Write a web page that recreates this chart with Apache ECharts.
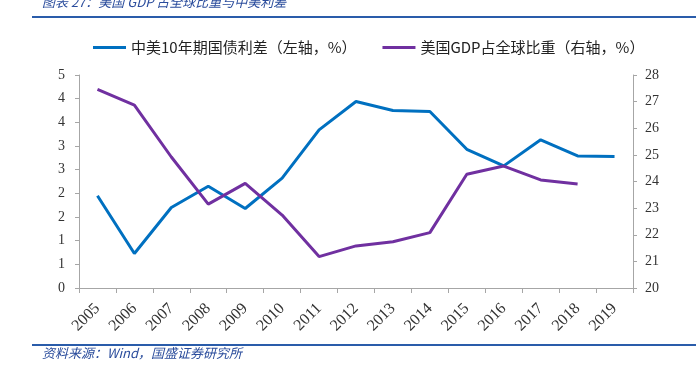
<!DOCTYPE html>
<html><head><meta charset="utf-8">
<script src="https://cdn.jsdelivr.net/npm/echarts@6/dist/echarts.min.js"></script>
<style>html,body{margin:0;padding:0;background:#fff}#c{width:696px;height:373px}</style>
</head><body><div id="c"></div>
<script>
const years = ['2005','2006','2007','2008','2009','2010','2011','2012','2013','2014','2015','2016','2017','2018','2019'];
const spread = [1.95, 0.73, 1.70, 2.15, 1.68, 2.32, 3.34, 3.94, 3.75, 3.73, 2.93, 2.58, 3.13, 2.79, 2.78];
const gdpShare = [27.46, 26.87, 24.92, 23.15, 23.93, 22.74, 21.18, 21.58, 21.74, 22.08, 24.27, 24.58, 24.06, 23.91, null];
const seriesNames = ['中美10年期国债利差（左轴，%）', '美国GDP占全球比重（右轴，%）'];
const titleText = '图表 27：美国 GDP 占全球比重与中美利差';
const sourceText = '资料来源：Wind，国盛证券研究所';

const chart = echarts.init(document.getElementById('c'));
const axisLineStyle = {show:true, lineStyle:{color:'#A6A6A6', width:1}};
const labelFont = {fontFamily:'Liberation Serif', fontSize:14, color:'#333'};
chart.setOption({
  animation:false,
  grid:{left:79, right:63, top:75, bottom:85},
  legend:{
    top:35, left:88, itemWidth:33, itemHeight:3, itemGap:26,
    icon:'rect',
    textStyle:{fontFamily:'Noto Sans CJK SC', fontSize:15, color:'#222'},
    data:seriesNames
  },
  graphic:[
    {type:'text', left:42, top:-4, style:{text:titleText, font:'italic 13px "Noto Sans CJK SC"', fill:'#2A4C9C'}},
    {type:'rect', shape:{x:32, y:16, width:664, height:2}, style:{fill:'#2A5CAA'}},
    {type:'rect', shape:{x:32, y:344, width:664, height:2}, style:{fill:'#2A5CAA'}},
    {type:'text', left:42, top:347, style:{text:sourceText, font:'italic 13px "Noto Sans CJK SC"', fill:'#2A4C9C'}}
  ],
  xAxis:{
    type:'category', data:years, boundaryGap:true,
    axisLine:axisLineStyle,
    axisTick:{show:true, alignWithLabel:false, length:5, lineStyle:{color:'#A6A6A6'}},
    axisLabel:Object.assign({rotate:45, margin:18, interval:0}, labelFont, {fontSize:16})
  },
  yAxis:[
    {type:'value', min:0, max:4.5, interval:0.5, position:'left',
     axisLine:axisLineStyle, splitLine:{show:false},
     axisTick:{show:true, length:4, lineStyle:{color:'#A6A6A6'}},
     axisLabel:Object.assign({margin:14, formatter:v=>String(Math.round(v))}, labelFont)},
    {type:'value', min:20, max:28, interval:1, position:'right',
     axisLine:axisLineStyle, splitLine:{show:false},
     axisTick:{show:true, length:4, lineStyle:{color:'#A6A6A6'}},
     axisLabel:Object.assign({margin:12}, labelFont)}
  ],
  series:[
    {name:seriesNames[0], type:'line', yAxisIndex:0, data:spread, symbol:'none',
     lineStyle:{color:'#0070C0', width:3}, itemStyle:{color:'#0070C0'}},
    {name:seriesNames[1], type:'line', yAxisIndex:1, data:gdpShare, symbol:'none',
     lineStyle:{color:'#7030A0', width:3}, itemStyle:{color:'#7030A0'}}
  ]
});
</script></body></html>
